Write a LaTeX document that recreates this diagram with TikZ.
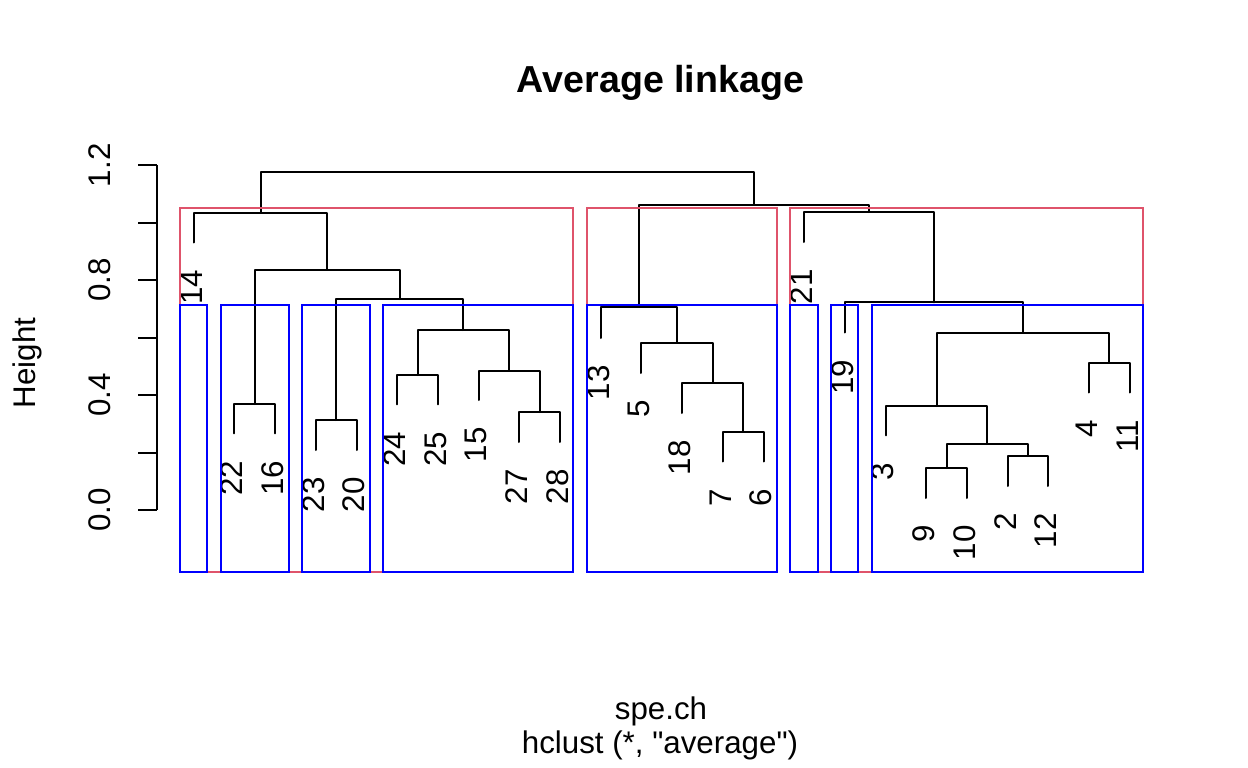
\documentclass[tikz,border=0pt]{standalone}
\usepackage{fontspec}
\setmainfont{Liberation Sans}
\newfontfamily\straightfont{Liberation Sans}
\definecolor{rred}{HTML}{DF536B}
\definecolor{rblue}{HTML}{0000FF}
\newcommand\dendmerge[5]{\draw[dend] (#1,#2) -- (#1,#5) -- (#3,#5) -- (#3,#4);}
\newcommand\leaflab[3]{\node[leaflab] (lab#1) at ({#2-2.4},{#3+27.3}) {#1};}
\begin{document}
\begin{tikzpicture}[x=1pt,y=-1pt,
  dend/.style={line width=2pt,black,line cap=round,line join=round},
  leaflab/.style={rotate=90,anchor=east,inner sep=0pt,font=\fontsize{31.3}{36}\selectfont},
  ticklab/.style={rotate=90,anchor=center,inner sep=0pt,font=\fontsize{31.3}{36}\selectfont},
  plaintext/.style={inner sep=0pt,anchor=base,font=\fontsize{31.3}{36}\selectfont},
  redbox/.style={draw=rred,line width=2pt},
  bluebox/.style={draw=rblue,line width=2pt}]
\useasboundingbox[fill=white] (0,0) rectangle (1248,768);

% title and axis titles
\node[plaintext,font=\fontsize{37.6}{44}\selectfont\bfseries] (title) at (660.5,92.3) {Average linkage};
\node[plaintext] (xlab) at (661,719.3) {spe.ch};
\node[plaintext,font=\fontsize{31.3}{36}\straightfont] (sub) at (660,753.3) {hclust (*, "average")};
\node[plaintext,rotate=90] (ylab) at (35.7,363) {Height};

% y axis
\draw[dend,line cap=butt] (156.5,510) -- (156.5,165.3);
\foreach \yy in {510,452.55,395.1,337.65,280.2,222.75,165.3}
  \draw[dend,line cap=butt] (138,\yy) -- (156.5,\yy);
\node[ticklab] (t0) at (100,510) {0.0};
\node[ticklab] (t4) at (100,395.1) {0.4};
\node[ticklab] (t8) at (100,280.2) {0.8};
\node[ticklab] (t12) at (100,165.3) {1.2};

% dendrogram
\dendmerge{234.4}{433.3}{275.1}{433.3}{404}
\dendmerge{315.8}{450}{356.5}{450}{420}
\dendmerge{397.2}{404.3}{437.9}{404.3}{375}
\dendmerge{519.3}{442}{560}{442}{412}
\dendmerge{478.6}{400}{539.65}{412}{370.7}
\dendmerge{417.55}{375}{509.1}{370.7}{330}
\dendmerge{336.15}{420}{463.3}{330}{299}
\dendmerge{254.75}{404}{399.7}{299}{269.7}
\dendmerge{193.7}{242.5}{327.2}{269.7}{212.7}
\dendmerge{722.8}{461.5}{763.5}{461.5}{431.7}
\dendmerge{682.1}{413}{743.15}{431.7}{382.7}
\dendmerge{641.4}{373}{712.6}{382.7}{342.7}
\dendmerge{600.7}{338}{677}{342.7}{306.7}
\dendmerge{926.3}{498}{967}{498}{468}
\dendmerge{1007.7}{486}{1048.4}{486}{456}
\dendmerge{946.65}{468}{1028.05}{456}{444}
\dendmerge{885.6}{435.3}{987.35}{444}{406}
\dendmerge{1089.1}{392.5}{1129.8}{392.5}{362.7}
\dendmerge{936.5}{406}{1109.45}{362.7}{332.7}
\dendmerge{844.9}{332.5}{1023}{332.7}{302.3}
\dendmerge{804.2}{242}{934}{302.3}{212}
\dendmerge{638.85}{306.7}{869.1}{212}{204.7}
\dendmerge{260.5}{212.7}{754}{204.7}{172}

% leaf labels
\leaflab{14}{193.7}{242.5}
\leaflab{22}{234.4}{433.3}
\leaflab{16}{275.1}{433.3}
\leaflab{23}{315.8}{450}
\leaflab{20}{356.5}{450}
\leaflab{24}{397.2}{404.3}
\leaflab{25}{437.9}{404.3}
\leaflab{15}{478.6}{400}
\leaflab{27}{519.3}{442}
\leaflab{28}{560}{442}
\leaflab{13}{600.7}{338}
\leaflab{5}{641.4}{373}
\leaflab{18}{682.1}{413}
\leaflab{7}{722.8}{461.5}
\leaflab{6}{763.5}{461.5}
\leaflab{21}{804.2}{242}
\leaflab{19}{844.9}{332.5}
\leaflab{3}{885.6}{435.3}
\leaflab{9}{926.3}{498}
\leaflab{10}{967}{498}
\leaflab{2}{1007.7}{486}
\leaflab{12}{1048.4}{486}
\leaflab{4}{1089.1}{392.5}
\leaflab{11}{1129.8}{392.5}

% cluster rectangles (k = 3)
\draw[redbox] (179.9,207.9) rectangle (573.4,571.7);
\draw[redbox] (586.9,207.9) rectangle (776.9,571.7);
\draw[redbox] (790.4,207.9) rectangle (1143.2,571.7);
% cluster rectangles (k = 8)
\draw[bluebox] (179.9,305) rectangle (207.1,571.7);
\draw[bluebox] (220.6,305) rectangle (288.5,571.7);
\draw[bluebox] (302.0,305) rectangle (369.9,571.7);
\draw[bluebox] (383.4,305) rectangle (573.4,571.7);
\draw[bluebox] (586.9,305) rectangle (776.9,571.7);
\draw[bluebox] (790.4,305) rectangle (817.6,571.7);
\draw[bluebox] (831.1,305) rectangle (858.3,571.7);
\draw[bluebox] (871.8,305) rectangle (1143.2,571.7);
\end{tikzpicture}
\end{document}
